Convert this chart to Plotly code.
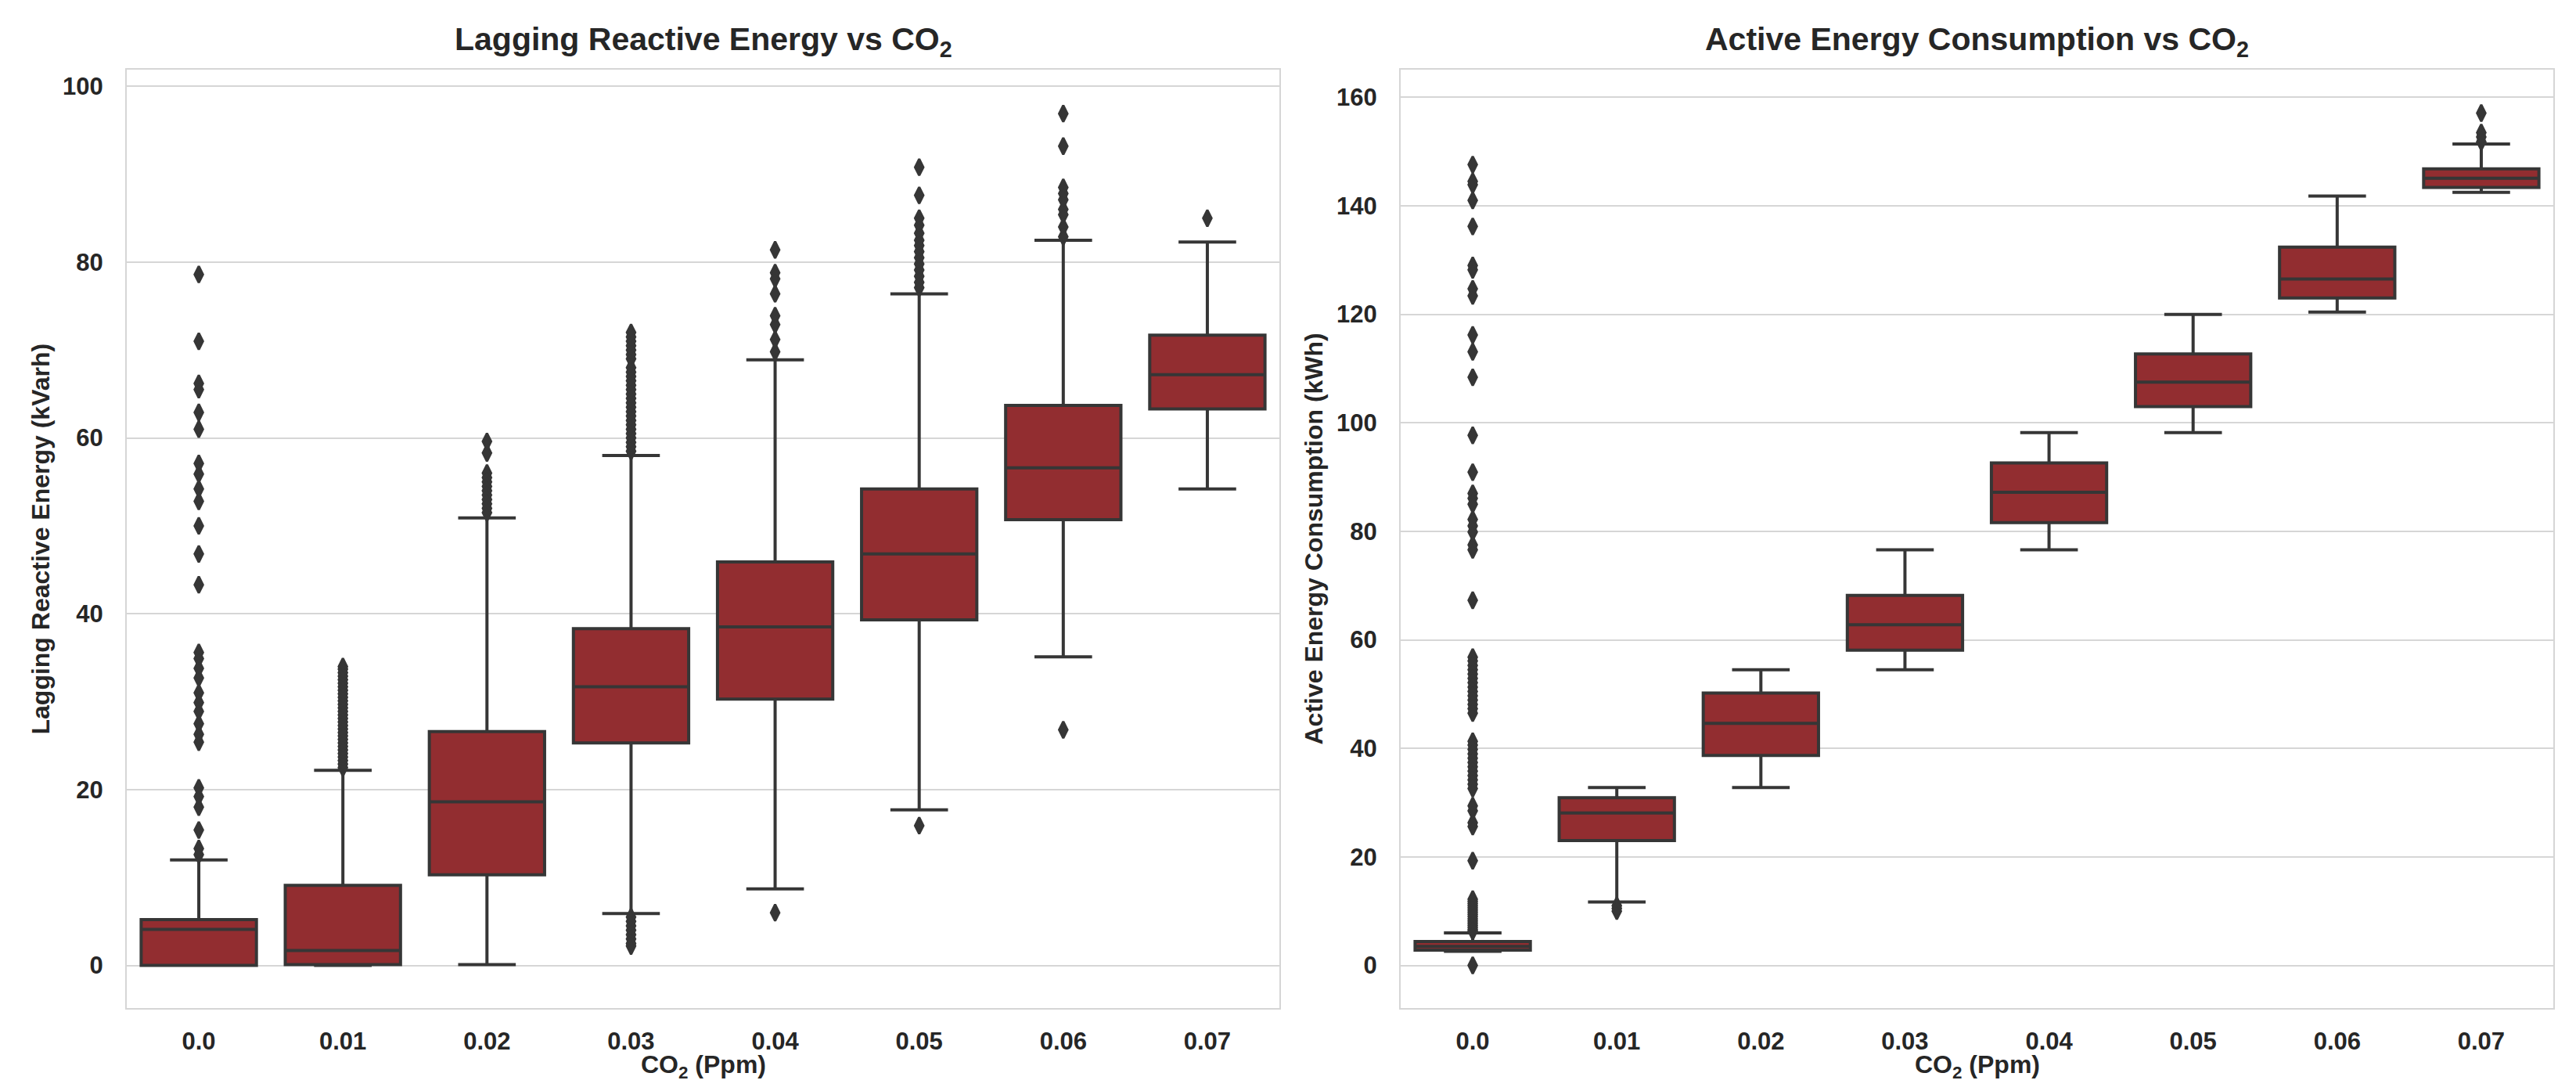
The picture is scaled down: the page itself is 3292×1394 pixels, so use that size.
import plotly.graph_objects as go

categories = ["0.0", "0.01", "0.02", "0.03", "0.04", "0.05", "0.06", "0.07"]

# ---- Lagging Reactive Energy (kVarh) box statistics ----
lag_q1 = [0.0, 0.1, 10.3, 25.3, 30.3, 39.3, 50.7, 63.3]
lag_median = [4.1, 1.7, 18.6, 31.7, 38.5, 46.8, 56.6, 67.2]
lag_q3 = [5.2, 9.1, 26.6, 38.3, 45.9, 54.2, 63.7, 71.7]
lag_lower = [0.0, 0.0, 0.1, 5.9, 8.7, 17.7, 35.1, 54.2]
lag_upper = [12.0, 22.2, 50.9, 58.0, 68.9, 76.4, 82.5, 82.3]

# outliers per category
lag_out_00 = [78.6, 71.0, 66.2, 65.5, 62.9, 61.0, 57.1, 55.9, 54.2, 52.8, 50.0, 46.8, 43.3,
              35.6, 34.9, 33.8, 32.7, 31.0, 29.9, 28.9, 27.5, 26.3, 25.4, 20.2, 19.2, 18.0,
              15.4, 13.3, 12.6]
lag_out_01 = [22.5, 22.9, 23.3, 23.7, 24.1, 24.5, 24.9, 25.3, 25.7, 26.1, 26.5, 26.9, 27.3,
              27.7, 28.1, 28.5, 28.9, 29.3, 29.7, 30.1, 30.5, 30.9, 31.3, 31.7, 32.1, 32.5,
              32.9, 33.3, 33.7, 34.0]
lag_out_02 = [59.6, 58.3, 56.0, 55.5, 55.0, 54.5, 54.0, 53.5, 53.0, 52.5, 52.0, 51.5]
lag_out_03 = [58.5, 59.0, 59.5, 60.0, 60.5, 61.0, 61.5, 62.0, 62.5, 63.0, 63.5, 64.0, 64.5,
              65.0, 65.5, 66.0, 66.5, 67.0, 67.5, 68.0, 69.0, 69.5, 70.0, 70.5, 71.0, 71.5,
              72.0, 5.5, 5.0, 4.5, 4.0, 3.5, 3.0, 2.5, 2.2]
lag_out_04 = [81.4, 78.8, 78.1, 76.4, 73.9, 72.9, 71.2, 69.8, 6.0]
lag_out_05 = [90.8, 87.6, 85.0, 84.2, 83.3, 82.5, 81.9, 81.2, 80.5, 79.8, 79.1, 78.4, 77.7,
              77.1, 15.9]
lag_out_06 = [96.9, 93.2, 88.5, 87.8, 87.1, 86.0, 85.4, 84.0, 82.9, 26.8]
lag_out_07 = [85.0]

# ---- Active Energy Consumption (kWh) box statistics ----
act_q1 = [2.8, 23.0, 38.7, 58.1, 81.6, 103.0, 123.0, 143.4]
act_median = [3.5, 28.1, 44.6, 62.8, 87.2, 107.5, 126.5, 145.1]
act_q3 = [4.4, 30.9, 50.2, 68.2, 92.6, 112.7, 132.4, 146.8]
act_lower = [2.6, 11.7, 32.8, 54.5, 76.6, 98.2, 120.4, 142.5]
act_upper = [6.0, 32.8, 54.5, 76.6, 98.2, 120.0, 141.8, 151.4]

act_out_00 = [147.6, 144.5, 143.9, 141.0, 136.2, 129.0, 128.2, 124.7, 123.4, 116.2, 113.1,
              108.4, 97.7, 90.9, 87.0, 86.1, 85.0, 82.2, 81.0, 79.9, 77.5, 76.6, 67.3,
              56.8, 56.1, 55.3, 54.5, 53.7, 52.9, 52.1, 51.3, 50.5, 49.7, 48.9, 48.1, 47.3,
              46.5, 41.3, 40.6, 39.8, 39.0, 38.2, 37.4, 36.6, 35.8, 35.0, 34.2, 33.4, 32.6,
              29.4, 28.5, 26.3, 25.6, 19.3, 12.2, 11.8, 11.4, 11.0, 10.6, 10.2, 9.8, 9.4,
              9.0, 8.6, 8.2, 7.8, 7.4, 7.0, 6.6, 6.3, 0.0]
act_out_01 = [11.0, 10.5, 10.0]
act_out_07 = [157.1, 153.5, 152.7, 151.8]

lag_outliers = [lag_out_00, lag_out_01, lag_out_02, lag_out_03,
                lag_out_04, lag_out_05, lag_out_06, lag_out_07]
act_outliers = [act_out_00, act_out_01, [], [], [], [], [], act_out_07]

BOX_FILL = "#922D30"
LINE = "#363636"
GRID = "#d6d6d6"
TEXT = "#262626"
FONT = "Liberation Sans"

W, H = 3292, 1394
# plot-area pixel geometry
L1, R1 = 154, 1627
L2, R2 = 1782, 3255
TOP, BOT = 81, 1280


def px_x(p):
    return p / W


def px_y(p):
    return 1 - p / H


fig = go.Figure()


def add_panel(q1, med, q3, lo, hi, outliers, xa, ya):
    fig.add_trace(go.Box(
        x=categories, q1=q1, median=med, q3=q3, lowerfence=lo, upperfence=hi,
        orientation="v", boxpoints=False, width=0.8, whiskerwidth=0.5,
        fillcolor=BOX_FILL, line=dict(color=LINE, width=4),
        xaxis=xa, yaxis=ya, showlegend=False, hoverinfo="y",
    ))
    ox, oy = [], []
    for cat, vals in zip(categories, outliers):
        for v in vals:
            ox.append(cat)
            oy.append(v)
    fig.add_trace(go.Scatter(
        x=ox, y=oy, mode="markers", xaxis=xa, yaxis=ya, showlegend=False,
        marker=dict(symbol="diamond-tall", size=15, color=LINE,
                    line=dict(color=LINE, width=3)),
    ))


add_panel(lag_q1, lag_median, lag_q3, lag_lower, lag_upper, lag_outliers, "x", "y")
add_panel(act_q1, act_median, act_q3, act_lower, act_upper, act_outliers, "x2", "y2")

tickfont = dict(family=FONT, size=31, color=TEXT, weight="bold")
xcommon = dict(type="category", range=[-0.5, 7.5], showgrid=False, zeroline=False,
               showline=True, mirror=True, linecolor=GRID, linewidth=2, ticks="",
               tickfont=tickfont, ticklabelstandoff=14, categoryorder="array",
               categoryarray=categories)
ycommon = dict(showgrid=True, gridcolor=GRID, gridwidth=2, zeroline=False,
               showline=True, mirror=True, linecolor=GRID, linewidth=2, ticks="",
               tickfont=tickfont, ticklabelstandoff=22, dtick=20, tick0=0)

fig.update_layout(
    width=W, height=H,
    margin=dict(l=0, r=0, t=0, b=0),
    paper_bgcolor="white", plot_bgcolor="white",
    xaxis=dict(domain=[px_x(L1), px_x(R1)], anchor="y", **xcommon),
    yaxis=dict(domain=[px_y(BOT), px_y(TOP)], anchor="x", range=[-4.85, 101.9], **ycommon),
    xaxis2=dict(domain=[px_x(L2), px_x(R2)], anchor="y2", **xcommon),
    yaxis2=dict(domain=[px_y(BOT), px_y(TOP)], anchor="x2", range=[-7.86, 165.1], **ycommon),
)

ann = []
titlefont = dict(family=FONT, size=41, color=TEXT)
labelfont = dict(family=FONT, size=32, color=TEXT)
ann.append(dict(text="<b>Lagging Reactive Energy vs CO<sub>2</sub></b>",
                x=px_x((L1 + R1) / 2), y=px_y(45), xref="paper", yref="paper",
                xanchor="center", yanchor="middle", showarrow=False, font=titlefont))
ann.append(dict(text="<b>Active Energy Consumption vs CO<sub>2</sub></b>",
                x=px_x((L2 + R2) / 2), y=px_y(45), xref="paper", yref="paper",
                xanchor="center", yanchor="middle", showarrow=False, font=titlefont))
for cx in [(L1 + R1) / 2, (L2 + R2) / 2]:
    ann.append(dict(text="<b>CO<sub>2</sub> (Ppm)</b>", x=px_x(cx), y=px_y(1354),
                    xref="paper", yref="paper", xanchor="center", yanchor="middle",
                    showarrow=False, font=labelfont))
ann.append(dict(text="<b>Lagging Reactive Energy (kVarh)</b>", x=px_x(43),
                y=px_y((TOP + BOT) / 2), xref="paper", yref="paper", textangle=-90,
                xanchor="center", yanchor="middle", showarrow=False, font=labelfont))
ann.append(dict(text="<b>Active Energy Consumption (kWh)</b>", x=px_x(1670),
                y=px_y((TOP + BOT) / 2), xref="paper", yref="paper", textangle=-90,
                xanchor="center", yanchor="middle", showarrow=False, font=labelfont))
fig.update_layout(annotations=ann)

fig.write_html("out.html")
